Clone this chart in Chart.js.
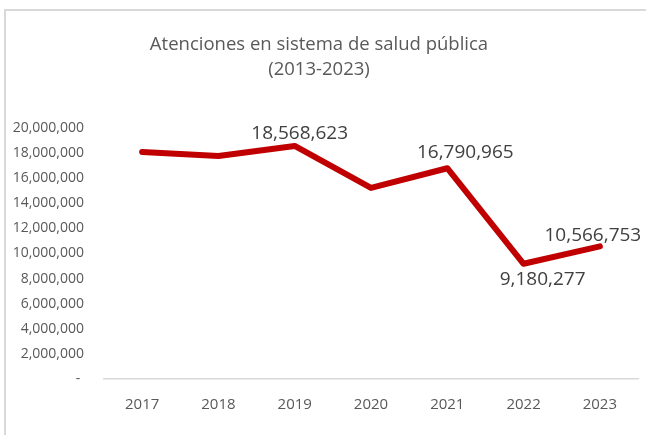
<!DOCTYPE html>
<html>
<head>
<meta charset="utf-8">
<script src="https://cdn.jsdelivr.net/npm/chart.js@4"></script>
<style>
    html, body { margin: 0; padding: 0; background: #fff; }
    #wrap { position: relative; width: 646px; height: 435px; overflow: hidden; }
    #frame { position: absolute; left: 4px; top: 9px; width: 700px; height: 500px;
             border-left: 2px solid #d9d9d9; border-top: 2px solid #d9d9d9; }
    canvas { position: absolute; left: 0; top: 0; }
</style>
</head>
<body>
<div id="wrap">
    <div id="frame"></div>
    <canvas id="chart" width="646" height="435"></canvas>
</div>
<script>
// datos
const years = ['2017', '2018', '2019', '2020', '2021', '2022', '2023'];
const atenciones = [18090000, 17770000, 18568623, 15220000, 16790965, 9180277, 10566753];
const yTicks = [0, 2000000, 4000000, 6000000, 8000000, 10000000, 12000000, 14000000, 16000000, 18000000, 20000000];
const labeled = [2, 4, 5, 6];

// desplazamiento de las etiquetas respecto al punto (px)
const labelShift = { 2: [5, -12], 4: [18, -16], 5: [19, 16], 6: [-7, -11] };

const FONT = '"Open Sans", "Liberation Sans", sans-serif';

const valueLabels = {
    id: 'valueLabels',
    afterDatasetsDraw(chart) {
        const ctx = chart.ctx;
        const meta = chart.getDatasetMeta(0);
        ctx.save();
        ctx.font = '19px ' + FONT;
        ctx.fillStyle = '#404040';
        ctx.textAlign = 'center';
        ctx.textBaseline = 'middle';
        labeled.forEach(i => {
            const p = meta.data[i];
            const s = labelShift[i];
            ctx.fillText(atenciones[i].toLocaleString('en-US'), p.x + s[0], p.y + s[1]);
        });
        ctx.restore();
    }
};

const chart = new Chart(document.getElementById('chart'), {
    type: 'line',
    data: {
        labels: years,
        datasets: [{
            data: atenciones,
            borderColor: '#c00000',
            borderWidth: 6,
            borderJoinStyle: 'round',
            borderCapStyle: 'round',
            pointRadius: 0,
            tension: 0
        }]
    },
    options: {
        responsive: false,
        animation: false,
        layout: { padding: { left: 0, right: 8, top: 0, bottom: 0 } },
        plugins: {
            legend: { display: false },
            tooltip: { enabled: false },
            title: {
                display: true,
                text: ['Atenciones en sistema de salud pública', '(2013-2023)'],
                color: '#595959',
                font: { family: FONT, size: 18.5, weight: 'normal', lineHeight: 1.35 },
                padding: { top: 32, bottom: 46 }
            }
        },
        scales: {
            x: {
                offset: true,
                grid: { display: false, drawTicks: false, offset: true },
                border: { display: true, color: '#d9d9d9', width: 1.5 },
                ticks: { color: '#595959', font: { family: FONT, size: 15 }, padding: 17 },
                afterFit(scale) { scale.height = 56; }
            },
            y: {
                min: 0,
                max: 20000000,
                grid: { display: false, drawTicks: false },
                border: { display: false },
                ticks: {
                    color: '#595959',
                    font: { family: FONT, size: 14 },
                    padding: 20,
                    callback: v => v === 0 ? '- ' : v.toLocaleString('en-US')
                },
                afterBuildTicks(scale) { scale.ticks = yTicks.map(v => ({ value: v })); },
                afterFit(scale) { scale.width = 104; }
            }
        }
    },
    plugins: [valueLabels]
});
</script>
</body>
</html>
